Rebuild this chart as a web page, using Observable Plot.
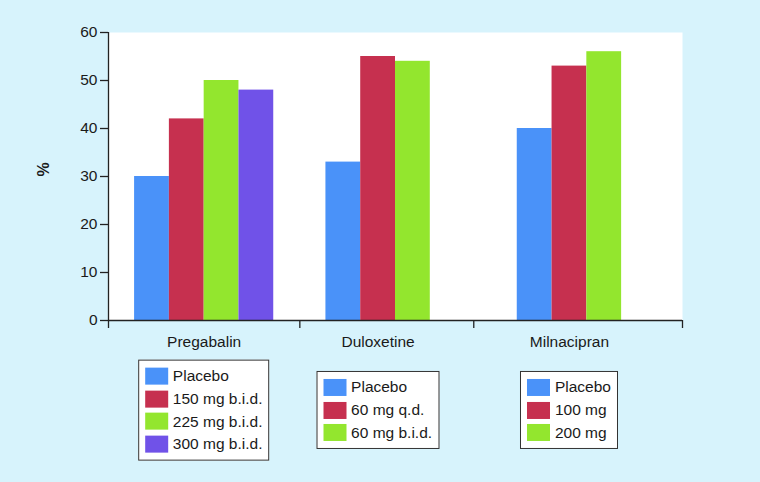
<!DOCTYPE html>
<html>
<head>
<meta charset="utf-8">
<script src="https://cdn.jsdelivr.net/npm/d3@7"></script>
<script src="https://cdn.jsdelivr.net/npm/@observablehq/plot@0.6"></script>
<style>
  html, body { margin: 0; padding: 0; background: #d7f3fc; }
  #wrap { position: relative; width: 760px; height: 482px; overflow: hidden;
          font-family: "Liberation Sans", Arial, Helvetica, sans-serif; color: #1a1a1a; }
  #wrap svg { display: block; }
  .legend { position: absolute; top: 410px; transform: translate(-50%, -50%);
            background: #fff; border: 1.3px solid #333; padding: 4px 6px 4px 6px; }
  .row { display: flex; align-items: center; height: 22.7px; font-size: 15.5px; white-space: nowrap; }
  .sw { width: 23px; height: 17px; margin-right: 5px; flex: none; }
</style>
</head>
<body>
<div id="wrap"></div>
<script>
// ---- data ----
const groups = ["Pregabalin", "Duloxetine", "Milnacipran"];
const pregabalinLabels = ["Placebo", "150 mg b.i.d.", "225 mg b.i.d.", "300 mg b.i.d."];
const pregabalinValues = [30, 42, 50, 48];
const duloxetineLabels = ["Placebo", "60 mg q.d.", "60 mg b.i.d."];
const duloxetineValues = [33, 55, 54];
const milnacipranLabels = ["Placebo", "100 mg", "200 mg"];
const milnacipranValues = [40, 53, 56];
const yTicks = [0, 10, 20, 30, 40, 50, 60];
const seriesColors = ["#4a92f9", "#c6304f", "#93e62e", "#7052e8"];

const groupLabels = [pregabalinLabels, duloxetineLabels, milnacipranLabels];
const groupValues = [pregabalinValues, duloxetineValues, milnacipranValues];

// ---- layout in category units: each group holds 4 bar slots with outer padding ----
const slots = 4, pad = 0.75, groupWidth = slots + 2 * pad;
const bars = [];
groups.forEach((g, gi) => {
  groupValues[gi].forEach((v, i) => {
    const x1 = gi * groupWidth + pad + i;
    bars.push({group: g, series: i, label: groupLabels[gi][i], value: v, x1, x2: x1 + 1});
  });
});
const firstX = gi => gi * groupWidth + pad;
const lastX = gi => gi * groupWidth + pad + groupValues[gi].length;
const centers = groups.map((g, gi) => ({group: g, x: (firstX(gi) + lastX(gi)) / 2}));
const boundaries = [0];
for (let gi = 0; gi < groups.length - 1; gi++) boundaries.push((lastX(gi) + firstX(gi + 1)) / 2);
boundaries.push(groups.length * groupWidth);

const chart = Plot.plot({
  width: 760,
  height: 352,
  marginTop: 32,
  marginBottom: 32,
  marginLeft: 108,
  marginRight: 78,
  style: {background: "transparent", fontFamily: '"Liberation Sans", Arial, Helvetica, sans-serif', fontSize: "15.5px", color: "#1a1a1a"},
  x: {type: "linear", domain: [0, groups.length * groupWidth]},
  y: {domain: [0, 60]},
  color: {type: "ordinal", domain: [0, 1, 2, 3], range: seriesColors},
  marks: [
    Plot.frame({fill: "white", stroke: "none"}),
    Plot.rectY(bars, {x1: "x1", x2: "x2", y: "value", fill: "series"}),
    Plot.axisY({ticks: yTicks, tickSize: 8, tickPadding: 3, label: null, stroke: "#222", strokeWidth: 1.3}),
    Plot.axisX({ticks: boundaries, tickSize: 8, tickFormat: () => "", label: null, stroke: "#222", strokeWidth: 1.3}),
    Plot.axisX({ticks: centers.map(d => d.x), tickSize: 0, tickPadding: 15, tickFormat: x => centers.find(d => d.x === x).group, label: null}),
    Plot.ruleX([0], {stroke: "#222", strokeWidth: 1.3}),
    Plot.ruleY([0], {stroke: "#222", strokeWidth: 1.3}),
    Plot.text(["%"], {frameAnchor: "left", dx: -65, rotate: -90, fontWeight: "bold", fontSize: 16})
  ]
});

const wrap = document.getElementById("wrap");
wrap.appendChild(chart);

// ---- per-group legends, centred under each group's bars ----
const xs = chart.scale("x");
groups.forEach((g, gi) => {
  const box = document.createElement("div");
  box.className = "legend";
  box.style.left = xs.apply(centers[gi].x) + "px";
  groupLabels[gi].forEach((lab, i) => {
    const row = document.createElement("div");
    row.className = "row";
    const sw = document.createElement("div");
    sw.className = "sw";
    sw.style.background = seriesColors[i];
    const t = document.createElement("span");
    t.textContent = lab;
    row.appendChild(sw); row.appendChild(t);
    box.appendChild(row);
  });
  wrap.appendChild(box);
});
</script>
</body>
</html>
